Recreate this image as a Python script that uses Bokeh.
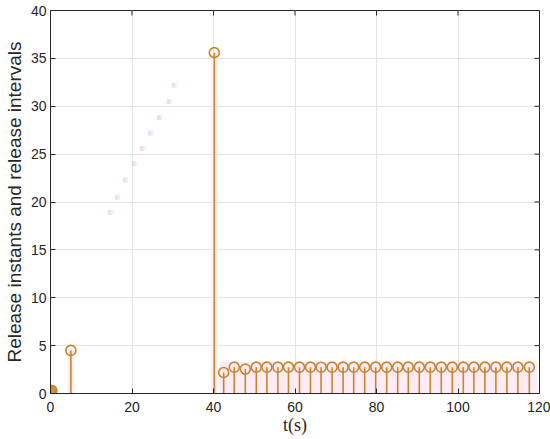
import math
from bokeh.plotting import figure
from bokeh.models import FixedTicker, Range1d
from bokeh.embed import file_html
from bokeh.resources import INLINE

# Release instants (s) and release intervals (s)
release_t = [0.0, 0.3, 5.0, 40.2, 42.5, 45.1, 47.8, 50.5, 53.1, 55.8, 58.4, 61.1,
             63.8, 66.4, 69.1, 71.8, 74.4, 77.1, 79.8, 82.5, 85.2, 87.8, 90.5,
             93.2, 95.9, 98.6, 101.3, 103.9, 106.6, 109.3, 112.0, 114.7, 117.5]
release_dt = [0.1, 0.3, 4.5, 35.6, 2.2, 2.75, 2.55, 2.75, 2.75, 2.75, 2.75, 2.75,
              2.75, 2.75, 2.75, 2.75, 2.75, 2.75, 2.75, 2.75, 2.75, 2.75, 2.75,
              2.75, 2.75, 2.75, 2.75, 2.75, 2.75, 2.75, 2.75, 2.75, 2.75]

# faint trace (artifact marks)
faint_t = [14.4, 16.2, 18.1, 20.3, 22.3, 24.3, 26.5, 28.9, 30.1]
faint_v = [18.9, 20.5, 22.3, 24.0, 25.6, 27.2, 28.8, 30.5, 32.2]

# light halo band behind periodic releases
band_t = [41.5, 119.5]
band_v = [0.0, 3.3]

x_ticks = [0, 20, 40, 60, 80, 100, 120]
y_ticks = [0, 5, 10, 15, 20, 25, 30, 35, 40]
x_max = 120
y_max = 40

ORANGE = "#C8852C"
AX = "#262626"

p = figure(width=550, height=439, output_backend="svg", toolbar_location=None,
           x_range=Range1d(0, x_max), y_range=Range1d(0, y_max),
           min_border_left=49, min_border_right=11, min_border_top=10, min_border_bottom=46)
p.background_fill_color = "white"
p.outline_line_color = AX
p.outline_line_width = 1

# halo band
p.quad(left=[band_t[0]], right=[band_t[1]], bottom=[band_v[0]], top=[band_v[1]],
       fill_color="#fdebf6", line_color=None)
# halo strips around isolated stems
p.rect(x=release_t[2:4], y=[v / 2 for v in release_dt[2:4]], width=6, height=release_dt[2:4],
       width_units="screen", fill_color="#fdebf6", line_color=None)

# faint marks
p.rect(x=faint_t, y=faint_v, width=3, height=5, width_units="screen", height_units="screen",
       fill_color="#f3bdec", line_color=None, fill_alpha=0.6)
p.rect(x=[t + 0.6 for t in faint_t], y=faint_v, width=2, height=5, width_units="screen",
       height_units="screen", fill_color="#bdeef2", line_color=None, fill_alpha=0.6)

p.segment(x0=release_t, y0=[0] * len(release_t), x1=release_t, y1=release_dt,
          line_color=ORANGE, line_width=1.6)
p.scatter(x=release_t[:2], y=release_dt[:2], marker="circle", size=10, fill_color=ORANGE,
          fill_alpha=0.6, line_color=ORANGE, line_width=1.6)
p.scatter(x=release_t, y=release_dt, marker="circle", size=10, fill_color=None,
          line_color=ORANGE, line_width=1.6)

# mirrored inward ticks on top and right edges
p.scatter(x=x_ticks, y=[y_max] * len(x_ticks), marker="dash", size=10, angle=math.pi / 2,
          line_color=AX, line_width=1)
p.scatter(x=[x_max] * len(y_ticks), y=y_ticks, marker="dash", size=10,
          line_color=AX, line_width=1)

for ax in (p.xaxis[0], p.yaxis[0]):
    ax.axis_line_color = AX
    ax.major_tick_line_color = AX
    ax.major_tick_in = 5
    ax.major_tick_out = 0
    ax.minor_tick_line_color = None
    ax.major_label_text_font = "Liberation Sans"
    ax.major_label_text_font_size = "14px"
    ax.major_label_text_color = AX

p.xaxis[0].major_label_standoff = 8
p.yaxis[0].major_label_standoff = 4
p.xaxis[0].ticker = FixedTicker(ticks=x_ticks)
p.yaxis[0].ticker = FixedTicker(ticks=y_ticks)
p.xaxis[0].axis_label = "t(s)"
p.xaxis[0].axis_label_text_font = "Liberation Serif"
p.xaxis[0].axis_label_text_font_style = "normal"
p.xaxis[0].axis_label_text_font_size = "18px"
p.xaxis[0].axis_label_text_color = AX
p.xaxis[0].axis_label_standoff = 0
p.yaxis[0].axis_label = "Release instants and release intervals"
p.yaxis[0].axis_label_text_font = "Liberation Sans"
p.yaxis[0].axis_label_text_font_style = "normal"
p.yaxis[0].axis_label_text_font_size = "19px"
p.yaxis[0].axis_label_text_color = AX
p.yaxis[0].axis_label_standoff = 3

p.xgrid.ticker = FixedTicker(ticks=x_ticks)
p.ygrid.ticker = FixedTicker(ticks=y_ticks)
p.grid.grid_line_color = "#e3e3e3"
p.grid.grid_line_width = 1

open("out.html", "w").write(file_html(p, INLINE))
